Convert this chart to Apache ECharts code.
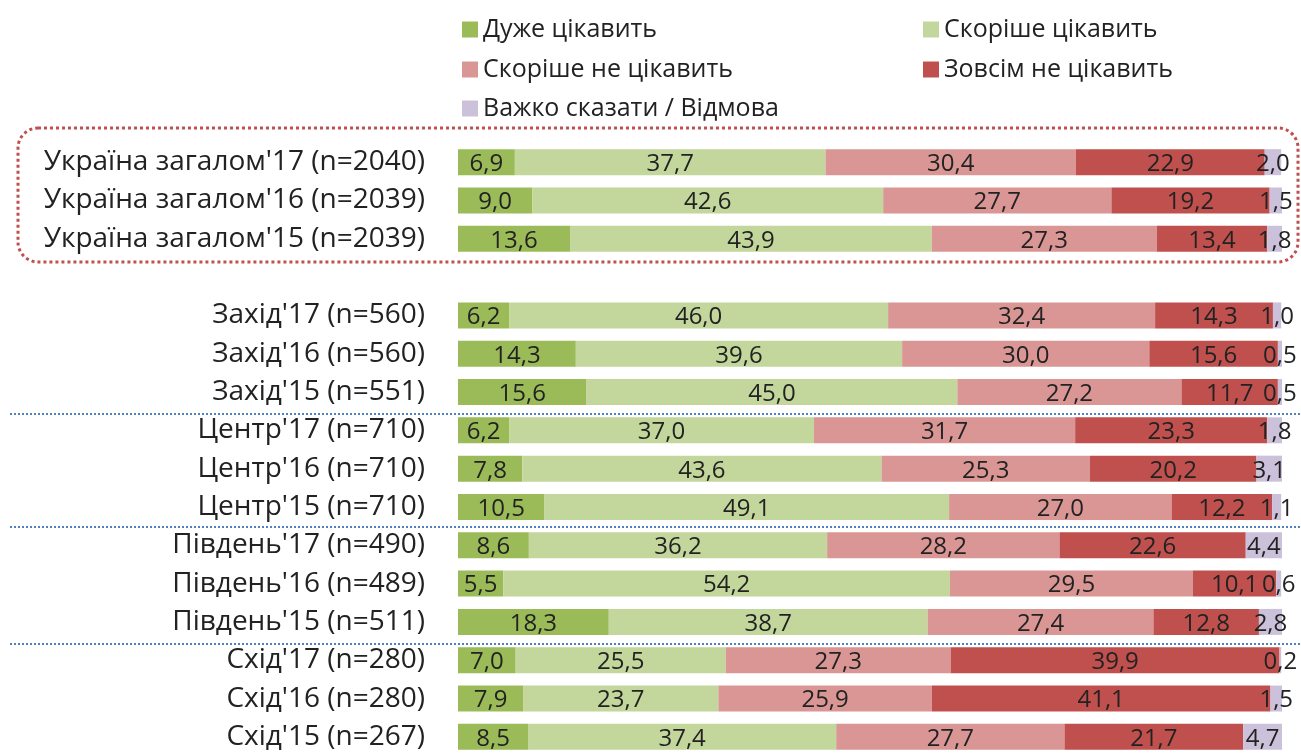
<!DOCTYPE html>
<html>
<head>
<meta charset="utf-8">
<script src="https://cdn.jsdelivr.net/npm/echarts@6/dist/echarts.min.js"></script>
<style>
html, body { margin: 0; padding: 0; background: #fff; }
#echarts_box { width: 1301px; height: 756px; }
</style>
</head>
<body>
<div id="echarts_box"></div>
<script>
// категорії (порожній рядок - проміжок між групами)
var categories = [
    "Україна загалом'17 (n=2040)", "Україна загалом'16 (n=2039)", "Україна загалом'15 (n=2039)",
    "",
    "Захід'17 (n=560)", "Захід'16 (n=560)", "Захід'15 (n=551)",
    "Центр'17 (n=710)", "Центр'16 (n=710)", "Центр'15 (n=710)",
    "Південь'17 (n=490)", "Південь'16 (n=489)", "Південь'15 (n=511)",
    "Схід'17 (n=280)", "Схід'16 (n=280)", "Схід'15 (n=267)"
];
var seriesNames = ["Дуже цікавить", "Скоріше цікавить", "Скоріше не цікавить", "Зовсім не цікавить", "Важко сказати / Відмова"];
var colors = ["#9bbb59", "#c3d69b", "#d99694", "#c0504d", "#ccc1da"];

var veryInterested   = [6.9, 9.0, 13.6, null, 6.2, 14.3, 15.6, 6.2, 7.8, 10.5, 8.6, 5.5, 18.3, 7.0, 7.9, 8.5];
var ratherInterested = [37.7, 42.6, 43.9, null, 46.0, 39.6, 45.0, 37.0, 43.6, 49.1, 36.2, 54.2, 38.7, 25.5, 23.7, 37.4];
var ratherNot        = [30.4, 27.7, 27.3, null, 32.4, 30.0, 27.2, 31.7, 25.3, 27.0, 28.2, 29.5, 27.4, 27.3, 25.9, 27.7];
var notAtAll         = [22.9, 19.2, 13.4, null, 14.3, 15.6, 11.7, 23.3, 20.2, 12.2, 22.6, 10.1, 12.8, 39.9, 41.1, 21.7];
var hardToSay        = [2.0, 1.5, 1.8, null, 1.0, 0.5, 0.5, 1.8, 3.1, 1.1, 4.4, 0.6, 2.8, 0.2, 1.5, 4.7];
var seriesData = [veryInterested, ratherInterested, ratherNot, notAtAll, hardToSay];

var font = "'Open Sans', sans-serif";
var mycharts = echarts.init(document.getElementById('echarts_box'));

// легенда у дві колонки
var legendPos = [[457, 12], [918, 12], [457, 52], [918, 52], [457, 91]];
var legends = seriesNames.map(function (n, i) {
    return {
        data: [n],
        left: legendPos[i][0],
        top: legendPos[i][1],
        itemWidth: 16,
        itemHeight: 16,
        itemGap: 6,
        icon: 'rect',
        selectedMode: false,
        textStyle: { fontSize: 25, color: '#222', fontFamily: font }
    };
});

var series = seriesNames.map(function (n, i) {
    return {
        name: n,
        type: 'bar',
        stack: 'all',
        barWidth: 26,
        itemStyle: { color: colors[i] },
        label: {
            show: true,
            position: 'inside',
            offset: [0, 2],
            color: '#222',
            fontSize: 24,
            fontFamily: font,
            formatter: function (p) {
                return p.value == null ? '' : p.value.toFixed(1).replace('.', ',');
            }
        },
        data: seriesData[i]
    };
});

var sepLine = function (y) {
    return {
        type: 'line',
        shape: { x1: 10, y1: y, x2: 1301, y2: y },
        style: { stroke: '#4f81bd', lineWidth: 2, lineDash: [2, 2] },
        silent: true
    };
};

var optionObj = {
    animation: false,
    legend: legends,
    grid: { left: 458, right: 19, top: 143, bottom: -5, containLabel: false },
    xAxis: { type: 'value', min: 0, max: 100, show: false },
    yAxis: {
        type: 'category',
        inverse: true,
        data: categories,
        axisLine: { show: false },
        axisTick: { show: false },
        axisLabel: { fontSize: 28, color: '#222', margin: 33, fontFamily: font }
    },
    graphic: [
        {
            type: 'rect',
            shape: { x: 18, y: 128, width: 1280, height: 134, r: 20 },
            style: { fill: 'none', stroke: '#c0504d', lineWidth: 3, lineDash: [3, 3] },
            silent: true
        },
        sepLine(414), sepLine(527), sepLine(644)
    ],
    series: series
};

mycharts.setOption(optionObj);
</script>
</body>
</html>
